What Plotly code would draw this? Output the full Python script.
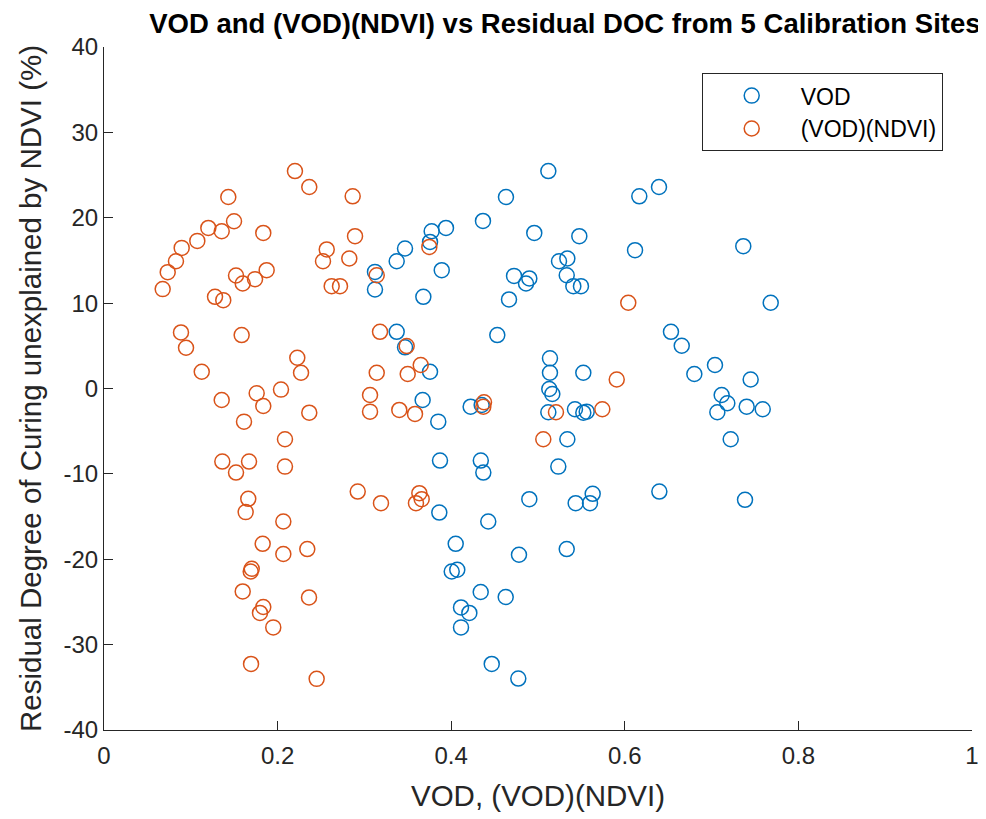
import plotly.graph_objects as go

# ---- data ----
vod_x = [0.5119, 0.4631, 0.4366, 0.6394, 0.6167, 0.4957, 0.5476, 0.6118, 0.7365, 0.5242,
         0.5338, 0.4724, 0.4900, 0.4862, 0.5331, 0.5407, 0.5495, 0.4666, 0.7681, 0.4531,
         0.6532, 0.6656, 0.5138, 0.5138, 0.5522, 0.7039, 0.6801, 0.7450, 0.5130, 0.5165,
         0.4351, 0.7116, 0.7181, 0.7404, 0.7589, 0.7066, 0.5119, 0.5426, 0.5522, 0.5561,
         0.5338, 0.7220, 0.5234, 0.4341, 0.4370, 0.4900, 0.5434, 0.5599, 0.5630, 0.6398,
         0.7385, 0.4427, 0.4781, 0.5331, 0.3671, 0.3851, 0.4224, 0.3871, 0.3863, 0.4052,
         0.4006, 0.4070, 0.4340, 0.4628, 0.4113, 0.4209, 0.4113, 0.4467, 0.4773, 0.3940,
         0.3775, 0.3756, 0.3468, 0.3372, 0.3122, 0.3122, 0.3891, 0.3679, 0.3372, 0.3468,
         0.3756]
vod_y = [25.47, 22.43, 19.63, 23.60, 22.51, 18.22, 17.84, 16.20, 16.67, 14.91,
         15.23, 13.19, 12.89, 12.30, 13.27, 11.99, 11.99, 10.43, 10.04, 6.26,
         6.64, 5.01, 3.53, 1.85, 1.85, 2.75, 1.70, 1.05, -0.06, -0.64,
         -1.93, -0.76, -1.73, -2.13, -2.43, -2.78, -2.78, -2.43, -2.83, -2.71,
         -5.94, -5.94, -9.15, -8.44, -9.85, -12.96, -13.43, -13.43, -12.34, -12.07,
         -13.04, -15.58, -19.47, -18.81, -1.35, -3.88, -2.13, -8.44, -14.53, -18.19,
         -21.43, -21.23, -23.84, -24.42, -25.64, -26.29, -27.98, -32.26, -33.98, 18.81,
         18.42, 17.17, 16.40, 14.91, 13.66, 11.60, 13.86, 10.74, 6.64, 4.82,
         1.96]

vn_x = [0.2200, 0.2365, 0.1432, 0.1498, 0.1202, 0.1356, 0.1835, 0.1075, 0.0895, 0.0829,
        0.0734, 0.0676, 0.1521, 0.1598, 0.1740, 0.1874, 0.1279, 0.1374, 0.0887, 0.0945,
        0.1586, 0.1126, 0.2227, 0.2270, 0.2566, 0.2523, 0.2623, 0.2719, 0.2865, 0.2892,
        0.2826, 0.3142, 0.3748, 0.3180, 0.3487, 0.3142, 0.3499, 0.3649, 0.6040, 0.5907,
        0.4378, 0.4370, 0.5207, 0.5741, 0.5061, 0.2039, 0.2365, 0.3065, 0.3065, 0.3402,
        0.3583, 0.2085, 0.2085, 0.2923, 0.3191, 0.3633, 0.3660, 0.3594, 0.2066, 0.2066,
        0.2342, 0.2362, 0.2450, 0.1356, 0.1759, 0.1835, 0.1613, 0.1363, 0.1671, 0.1521,
        0.1662, 0.1632, 0.1828, 0.1702, 0.1690, 0.1598, 0.1835, 0.1797, 0.1950, 0.1694]
vn_y = [25.47, 23.60, 22.43, 19.59, 18.81, 18.42, 18.22, 17.29, 16.47, 14.91,
        13.63, 11.64, 13.24, 12.30, 12.81, 13.86, 10.74, 10.35, 6.57, 4.77,
        6.26, 1.96, 3.60, 1.85, 16.29, 14.91, 11.99, 11.99, 22.51, 17.84,
        15.23, 13.27, 16.58, 6.64, 4.97, 1.85, 1.70, 2.75, 10.04, 1.05,
        -1.61, -2.13, -2.78, -2.43, -5.94, -0.13, -2.83, -0.76, -2.71, -2.51,
        -2.98, -5.94, -9.15, -12.07, -13.43, -12.26, -12.96, -13.43, -15.58, -19.39,
        -18.81, -24.47, -34.01, -1.35, -0.56, -2.05, -3.88, -8.56, -8.56, -9.85,
        -12.92, -14.48, -18.19, -21.11, -21.43, -23.77, -25.59, -26.29, -27.98, -32.26]

x_ticks = [0, 0.2, 0.4, 0.6, 0.8, 1]
x_tick_labels = ["0", "0.2", "0.4", "0.6", "0.8", "1"]
y_ticks = [-40, -30, -20, -10, 0, 10, 20, 30, 40]
y_tick_labels = ["-40", "-30", "-20", "-10", "0", "10", "20", "30", "40"]

BLUE = "#0072BD"
ORANGE = "#D95319"
AX = "#262626"
FONT = "Liberation Sans, Arial, sans-serif"

# page has an 8px body margin, so the figure is sized to fit the window
W, H = 978, 811

fig = go.Figure()
fig.add_trace(go.Scatter(
    x=vod_x, y=vod_y, mode="markers", name="VOD",
    marker=dict(symbol="circle-open", size=15, color=BLUE, line=dict(width=1.5, color=BLUE)),
))
fig.add_trace(go.Scatter(
    x=vn_x, y=vn_y, mode="markers", name="(VOD)(NDVI)",
    marker=dict(symbol="circle-open", size=15, color=ORANGE, line=dict(width=1.5, color=ORANGE)),
))

axis_common = dict(
    showgrid=False, zeroline=False, showline=True, linecolor=AX, linewidth=1,
    ticks="inside", ticklen=9, tickcolor=AX, tickwidth=1, automargin=False,
    tickfont=dict(family=FONT, size=24, color=AX),
)
fig.update_xaxes(
    range=[0, 1], tickvals=x_ticks, ticktext=x_tick_labels, ticklabelstandoff=4,
    title=dict(text="VOD, (VOD)(NDVI)", font=dict(family=FONT, size=29.5, color=AX), standoff=17),
    **axis_common,
)
fig.update_yaxes(
    range=[-40, 40], tickvals=y_ticks, ticktext=y_tick_labels,
    title=dict(text="Residual Degree of Curing unexplained by NDVI (%)",
               font=dict(family=FONT, size=29.5, color=AX), standoff=13),
    **axis_common,
)

fig.update_layout(
    width=W, height=H,
    margin=dict(l=96, r=14, t=38.5, b=88.5, pad=0, autoexpand=False),
    paper_bgcolor="white", plot_bgcolor="white",
    title=dict(text="<b>VOD and (VOD)(NDVI) vs Residual DOC from 5 Calibration Sites</b>",
               font=dict(family=FONT, size=27.5, color="black"),
               x=0.531, xref="paper", xanchor="center", y=1 - 15 / H, yanchor="middle"),
    showlegend=True,
    legend=dict(
        x=0.6886, y=0.9617, xanchor="left", yanchor="top",
        bgcolor="white", bordercolor=AX, borderwidth=1,
        font=dict(family=FONT, size=23, color="black"),
        itemwidth=88,
    ),
)

fig.write_html("out.html")
